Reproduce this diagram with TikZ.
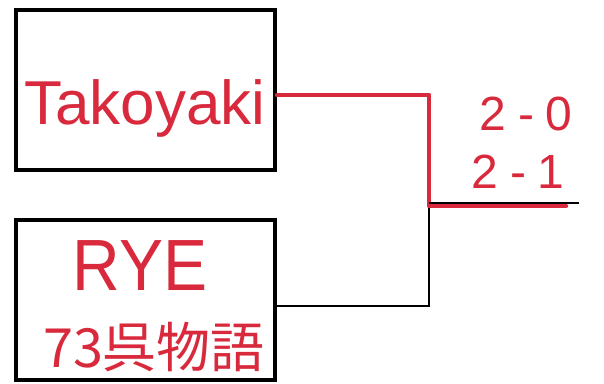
\documentclass[tikz,border=0pt]{standalone}
\usepackage{fontspec}
\setmainfont{Liberation Sans}
\newfontfamily\cjkfont{Noto Sans CJK JP}
\definecolor{pen}{HTML}{D82A3C}
\begin{document}
\begin{tikzpicture}[x=1pt,y=-1pt,
  teambox/.style={draw=black,line width=4pt,minimum width=259pt,minimum height=160pt,inner sep=0pt},
  thin/.style={draw=black,line width=2pt},
  win/.style={draw=pen,line width=4.5pt,line join=round,line cap=round},
  penText/.style={text=pen,inner sep=0pt}]
\useasboundingbox (0,0) rectangle (604,383);
\fill[white] (0,0) rectangle (604,383);
\node[teambox] (top) at (145.5,90) {};
\node[teambox] (bot) at (145.5,300) {};
\node[penText,font=\fontsize{62}{62}\selectfont] (tname) at (145,108) {Takoyaki};
\node[penText,font=\fontsize{66}{66}\selectfont,yscale=1.1] (rye) at (140,266) {RYE};
\node[penText,font=\cjkfont\fontsize{54}{54}\selectfont] (bname) at (154,347) {73呉物語};
\coordinate (tj) at (top.east |- 0,95);
\coordinate (bj) at (bot.east |- 0,306);
\coordinate (c1) at (429,95);
\coordinate (c2) at (429,204);
\coordinate (c3) at (429,306);
\coordinate (fin) at (579,203);
\coordinate (finr) at (566,206);
\draw[thin] (c2) -- (c3) -- (bj);
\draw[win] (tj) -- (c1) -- (c2 |- 0,206) -- (finr);
\draw[thin] (c2 |- 0,203) -- (fin);
\node[penText,font=\fontsize{48}{48}\selectfont] (s1) at (526,114) {2\hspace{12pt}-\hspace{12pt}0};
\node[penText,font=\fontsize{48}{48}\selectfont] (s2) at (518,172) {2\hspace{12pt}-\hspace{12pt}1};
\end{tikzpicture}
\end{document}
